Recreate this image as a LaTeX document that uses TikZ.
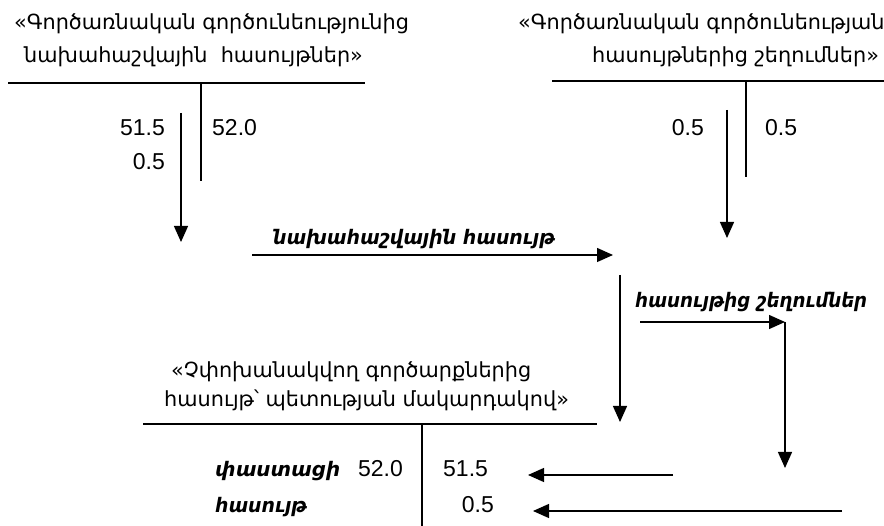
\documentclass[tikz,border=0pt]{standalone}
\usepackage{fontspec}
\usepackage{graphicx}
\setmainfont{Liberation Sans}
\newfontfamily\armfont{DejaVu Sans}
\usetikzlibrary{arrows.meta}

% text squeezed to a given width, height kept
\newcommand{\fitto}[2]{\resizebox{#1}{\height}{#2}}

\tikzset{
  title/.style={inner sep=0pt, anchor=base west, font=\armfont\fontsize{20.8}{24}\selectfont},
  num/.style={inner sep=0pt, font=\fontsize{23}{27}\selectfont},
  lbl/.style={inner sep=0pt, anchor=base west, font=\armfont\fontsize{20}{24}\selectfont\bfseries\itshape},
  tline/.style={line width=1.3pt},
  arr/.style={line width=1.3pt, -{Triangle[length=16pt,width=14pt]}}
}

\begin{document}
\begin{tikzpicture}[x=1pt, y=-1pt]
        \useasboundingbox (0,0) rectangle (884,526);

        % Top-left account
        \node[title] (tl1) at (14,30)  {«Գործառնական գործունեությունից};
        \node[title] (tl2) at (24,63)  {նախահաշվային\ \ հասույթներ»};
        \coordinate (tlL) at (8,83);
        \coordinate (tlR) at (365,83);
        \coordinate (tlT) at (201,83);
        \coordinate (tlB) at (201,181);
        \draw[tline] (tlL)--(tlR);
        \draw[tline] (tlT)--(tlB);
        \node[num, anchor=base east] (tld1) at (165,136) {51.5};
        \node[num, anchor=base east] (tld2) at (165,170) {0.5};
        \node[num, anchor=base west] (tlc1) at (212,136) {52.0};

        % Top-right account
        \node[title] (tr1) at (518,30)  {«Գործառնական գործունեության};
        \node[title] (tr2) at (592,63)  {հասույթներից շեղումներ»};
        \coordinate (trL) at (552,81);
        \coordinate (trR) at (884,81);
        \coordinate (trT) at (746,81);
        \coordinate (trB) at (746,177);
        \draw[tline] (trL)--(trR);
        \draw[tline] (trT)--(trB);
        \node[num, anchor=base east] (trd1) at (704,136) {0.5};
        \node[num, anchor=base west] (trc1) at (765,136) {0.5};

        % Bottom account
        \node[title] (bt1) at (171,378) {«Չփոխանակվող գործարքներից};
        \node[title] (bt2) at (164,407) {հասույթ՝ պետության մակարդակով»};
        \coordinate (btL) at (143,424);
        \coordinate (btR) at (597,424);
        \coordinate (btT) at (422,424);
        \coordinate (btB) at (422,526);
        \draw[tline] (btL)--(btR);
        \draw[tline] (btT)--(btB);
        \node[lbl] (fact) at (215,477) {\fitto{125pt}{փաստացի}};
        \node[lbl] (rev)  at (215,512) {\fitto{92pt}{հասույթ}};
        \node[num, anchor=base east] (btd1) at (403,477) {52.0};
        \node[num, anchor=base west] (btc1) at (443,477) {51.5};
        \node[num, anchor=base east] (btc2) at (494,512) {0.5};

        % Flow labels
        \node[lbl] (plan) at (273,245) {\fitto{282pt}{նախահաշվային հասույթ}};
        \node[lbl] (dev)  at (635,308) {\fitto{232pt}{հասույթից շեղումներ}};

        % Arrows
        \coordinate (a1s) at (181,113);
        \coordinate (a1e) at (181,242);
        \coordinate (a2s) at (727,110);
        \coordinate (a2e) at (727,238);
        \coordinate (a3s) at (252,255);
        \coordinate (a3e) at (613,255);
        \coordinate (a4s) at (620,275);
        \coordinate (a4e) at (620,422);
        \coordinate (a5s) at (640,322);
        \coordinate (a5e) at (785,322);
        \coordinate (a6e) at (785,468);
        \coordinate (a7s) at (673,475);
        \coordinate (a7e) at (528,475);
        \coordinate (a8s) at (842,511);
        \coordinate (a8e) at (533,511);
        \draw[arr] (a1s)--(a1e);
        \draw[arr] (a2s)--(a2e);
        \draw[arr] (a3s)--(a3e);
        \draw[arr] (a4s)--(a4e);
        \draw[arr] (a5s)--(a5e);
        \draw[arr] (a5e)--(a6e);
        \draw[arr] (a7s)--(a7e);
        \draw[arr] (a8s)--(a8e);
    \end{tikzpicture}
\end{document}
